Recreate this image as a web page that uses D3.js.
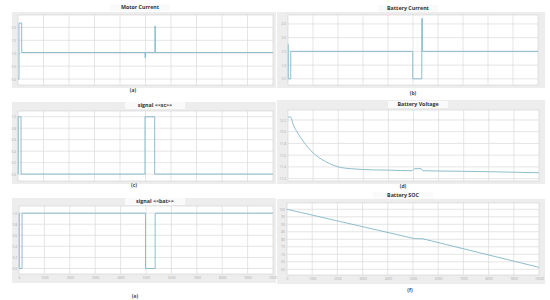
<!DOCTYPE html>
<html>
<head>
<meta charset="utf-8">
<script src="https://cdn.jsdelivr.net/npm/d3@7"></script>
<style>
  body { margin: 0; background: #fff; }
  svg  { display: block; font-family: "Open Sans", sans-serif; }
</style>
</head>
<body>
<div id="chart"></div>
<script>
// time axis shared by all panels (s)
var timeDomain = [0, 10000];
var timeTicks  = d3.range(0, 10001, 1000);

// step series: [time, value] holds until the next point
var motorCurrent   = [[0, 0], [40, 2.17], [145, 1.03], [4980, 0.83], [5000, 1.03], [5370, 2.05], [5385, 1.03], [10000, 1.03]];
var batteryCurrent = [[0, 2.5], [10, 0], [110, 2], [4990, 0], [5350, 4.4], [5375, 2], [10000, 2]];
var signalSc       = [[0, 0], [10, 1], [120, 0], [4980, 1], [5360, 0], [10000, 0]];
var signalBat      = [[0, 1], [10, 0], [120, 1], [4980, 0], [5360, 1], [10000, 1]];

// continuous series
var batteryVoltage = [[0, 12.25], [110, 12.25], [200, 12.13], [400, 11.97], [600, 11.84], [800, 11.73],
                      [1000, 11.64], [1200, 11.57], [1500, 11.49], [1800, 11.43], [2100, 11.39], [2500, 11.37],
                      [3000, 11.355], [4000, 11.345], [4950, 11.335], [5000, 11.36], [5050, 11.37], [5300, 11.37],
                      [5370, 11.335], [6000, 11.33], [7000, 11.325], [8000, 11.318], [9000, 11.31], [10000, 11.30]];
var batterySoc     = [[0, 100], [5050, 80.5], [5400, 80.3], [10000, 61.3]];

// y tick labels
var motorTicks   = [0, 0.5, 1, 1.5, 2];
var batCurTicks  = [0, 1, 2, 3, 4];
var signalTicks  = [0, 0.2, 0.4, 0.6, 0.8, 1];
var voltTicks    = [11.2, 11.4, 11.6, 11.8, 12, 12.2];
var socTicks     = [60, 65, 70, 75, 80, 85, 90, 95, 100];

var curves = { step: d3.curveStepAfter, smooth: d3.curveMonotoneX, linear: d3.curveLinear };

var panels = [
  { title: "Motor Current",   tag: "(a)", data: motorCurrent,   curve: "step",   yDomain: [-0.23, 2.48], yTicks: motorTicks,
    box: [18, 273, 15, 85],  frame: [12, 276, 12, 88],  titleXY: [140, 9],  tagXY: [133, 92],  xLabels: false },
  { title: "Battery Current", tag: "(b)", data: batteryCurrent, curve: "step",   yDomain: [-0.45, 4.65], yTicks: batCurTicks,
    box: [288, 538, 15, 85], frame: [277, 545, 12, 88], titleXY: [408, 10], tagXY: [413, 95],  xLabels: false },
  { title: "signal <<sc>>",   tag: "(c)", data: signalSc,       curve: "step",   yDomain: [-0.12, 1.1],  yTicks: signalTicks,
    box: [18, 273, 111, 181], frame: [12, 276, 102, 184], titleXY: [155, 107], tagXY: [134, 187], xLabels: false },
  { title: "Battery Voltage", tag: "(d)", data: batteryVoltage, curve: "smooth", yDomain: [11.16, 12.37], yTicks: voltTicks,
    box: [288, 539, 110, 181], frame: [277, 545, 100, 184], titleXY: [418, 106], tagXY: [403, 188], xLabels: false },
  { title: "signal <<bat>>",  tag: "(e)", data: signalBat,      curve: "step",   yDomain: [-0.1, 1.13],  yTicks: signalTicks,
    box: [19, 273, 206, 274], frame: [12, 276, 198, 283], titleXY: [155, 203], tagXY: [135, 298], xLabels: true },
  { title: "Battery SOC",     tag: "(f)", data: batterySoc,     curve: "linear", yDomain: [56.2, 104.2], yTicks: socTicks,
    box: [287, 539, 203, 275], frame: [277, 545, 199, 284], titleXY: [403, 197], tagXY: [410, 292], xLabels: true }
];

var svg = d3.select("#chart").append("svg").attr("width", 550).attr("height", 300);

var lineColor = "#82b6c9";
var gridColor = "#dadada";

panels.forEach(function (p)
{
  var x = d3.scaleLinear().domain(timeDomain).range([p.box[0], p.box[1]]);
  var y = d3.scaleLinear().domain(p.yDomain).range([p.box[3], p.box[2]]);
  var g = svg.append("g");

  // grey panel frame
  g.append("rect")
    .attr("x", p.frame[0]).attr("y", p.frame[2])
    .attr("width", p.frame[1] - p.frame[0]).attr("height", p.frame[3] - p.frame[2])
    .attr("fill", "#ededed");

  // title band
  g.append("rect")
    .attr("x", p.titleXY[0] - 30).attr("y", p.titleXY[1] - 5)
    .attr("width", 60).attr("height", 7)
    .attr("fill", "#fafafa");

  g.append("rect")
    .attr("x", p.box[0]).attr("y", p.box[2])
    .attr("width", p.box[1] - p.box[0]).attr("height", p.box[3] - p.box[2])
    .attr("fill", "#fff").attr("stroke", "#d0d0d0").attr("stroke-width", 0.6);

  // grid
  g.append("g").selectAll("line").data(timeTicks.slice(1, -1)).join("line")
    .attr("x1", function (d) { return x(d); }).attr("x2", function (d) { return x(d); })
    .attr("y1", p.box[2]).attr("y2", p.box[3])
    .attr("stroke", gridColor).attr("stroke-width", 0.7);

  g.append("g").selectAll("line").data(p.yTicks).join("line")
    .attr("x1", p.box[0]).attr("x2", p.box[1])
    .attr("y1", function (d) { return y(d); }).attr("y2", function (d) { return y(d); })
    .attr("stroke", gridColor).attr("stroke-width", 0.7);

  // y tick labels
  var yAxis = d3.axisLeft(y).tickValues(p.yTicks).tickSize(0).tickPadding(2);
  var ya = g.append("g").attr("transform", "translate(" + p.box[0] + ",0)").call(yAxis);
  ya.select(".domain").remove();
  ya.selectAll("text").attr("font-size", 3.2).attr("fill", "#aaaaaa").attr("font-family", "Open Sans");

  if (p.xLabels)
  {
    var xAxis = d3.axisBottom(x).tickValues(timeTicks).tickSize(0).tickPadding(3).tickFormat(d3.format("d"));
    var xa = g.append("g").attr("transform", "translate(0," + p.box[3] + ")").call(xAxis);
    xa.select(".domain").remove();
    xa.selectAll("text").attr("font-size", 3.2).attr("fill", "#aaaaaa").attr("font-family", "Open Sans");
  }

  // signal line
  var line = d3.line()
    .x(function (d) { return x(d[0]); })
    .y(function (d) { return y(d[1]); })
    .curve(curves[p.curve]);

  g.append("path")
    .datum(p.data)
    .attr("d", line)
    .attr("fill", "none")
    .attr("stroke", lineColor)
    .attr("stroke-width", 0.9);

  g.append("text")
    .attr("x", p.titleXY[0]).attr("y", p.titleXY[1])
    .attr("text-anchor", "middle").attr("font-size", 5.3).attr("font-weight", "bold").attr("fill", "#333")
    .text(p.title);

  g.append("text")
    .attr("x", p.tagXY[0]).attr("y", p.tagXY[1])
    .attr("text-anchor", "middle").attr("font-size", 5).attr("font-weight", "bold").attr("fill", "#444")
    .text(p.tag);
});
</script>
</body>
</html>
